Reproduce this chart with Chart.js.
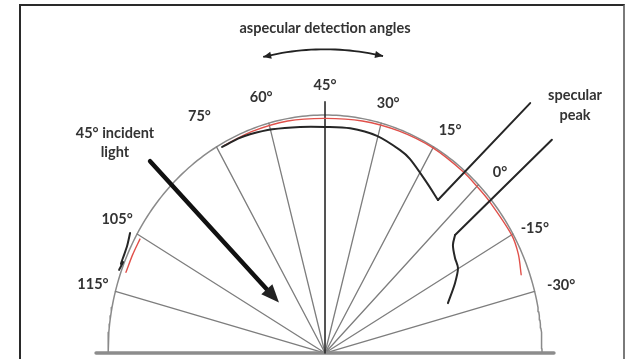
<!DOCTYPE html>
<html>
<head>
<meta charset="utf-8">
<script src="https://cdn.jsdelivr.net/npm/chart.js@4.4.1/dist/chart.umd.min.js"></script>
<style>
  html, body { margin: 0; padding: 0; background: #fff; }
  #wrap { position: relative; width: 631px; height: 359px; overflow: hidden; }
  #frame { position: absolute; left: 19px; top: 4px; width: 602px; height: 400px;
           border-left: 2px solid #2a2a2a; border-top: 2px solid #2a2a2a; border-right: 2px solid #7a7a7a; }
  canvas { position: absolute; left: 0; top: 0; }
</style>
</head>
<body>
<div id="wrap">
  <div id="frame"></div>
  <canvas id="c" width="631" height="359"></canvas>
</div>
<script>
// Detector rays: polar angle in degrees, measured from the right-hand baseline
const rayAngles = [165, 150, 120, 105, 90, 75, 60, 45, 30, 15];
// Detection angle tick labels, one per ray
const rayLabels = ['115°', '105°', '75°', '60°', '45°', '30°', '15°', '0°', '-15°', '-30°'];

// Reflectance profiles as [polar angle (deg), relative radius]
const redProfile = [
  [118, 0.988], [110, 0.990], [100, 0.990], [90, 0.986], [80, 0.990], [70, 0.993],
  [60, 0.995], [50, 0.993], [45, 0.990], [40, 0.990], [30, 0.993], [25, 0.983], [20, 0.962]
];
const redProfileLow = [[150.7, 0.978], [155, 0.978], [159.7, 0.978]];
const blackProfile = [
  [118.7, 0.987], [114, 0.986], [110.6, 0.982], [104.5, 0.971], [96.9, 0.957], [90, 0.950], [83, 0.951],
  [75.3, 0.943], [67.9, 0.920], [64.3, 0.904], [56.6, 0.855], [51, 0.827]
];
const blackPeakLine = [[51, 0.827], [48, 1.413]];
const blackProfile2 = [
  [20.3, 0.604], [26.1, 0.667], [30.2, 0.709], [33.7, 0.720], [37.6, 0.744], [39.6, 0.778]
];
const blackPeakLine2 = [[39.6, 0.778], [40.6, 1.377]];
const blackProfileLow = [
  [150.7, 1.030], [153.7, 1.017], [156.8, 1.013], [158.3, 1.012], [157.7, 1.006], [159.8, 1.011]
];

const DEG = Math.PI / 180;
const polar = (t, r) => ({ x: r * Math.cos(t * DEG), y: r * Math.sin(t * DEG) });
const toPoints = arr => arr.map(([t, r]) => polar(t, r));

const FONT = "bold 14.5px Lato, 'DejaVu Sans', sans-serif";
const INK = '#333333';

const datasets = [];
// black profiles (top)
[blackProfile, blackProfile2, blackProfileLow].forEach(p => datasets.push({
  data: toPoints(p), showLine: true, borderColor: '#262626', borderWidth: 2,
  tension: 0.3, pointRadius: 0, order: 1
}));
[blackPeakLine, blackPeakLine2].forEach(p => datasets.push({
  data: toPoints(p), showLine: true, borderColor: '#262626', borderWidth: 2,
  tension: 0, pointRadius: 0, order: 1
}));
// red profiles
[redProfile, redProfileLow].forEach(p => datasets.push({
  data: toPoints(p), showLine: true, borderColor: '#e0504a', borderWidth: 1.4,
  tension: 0.3, pointRadius: 0, order: 2
}));
// detector rays; the 45° normal is darker and longer
rayAngles.forEach(t => datasets.push({
  data: [polar(t, 0), polar(t, t === 90 ? 1.055 : 1)], showLine: true,
  borderColor: t === 90 ? '#2a2a2a' : '#7d7d7d', borderWidth: t === 90 ? 1.6 : 1.3,
  pointRadius: 0, order: t === 90 ? 3 : 5
}));
// outer half-ellipse of the goniometer
const rim = [];
for (let t = 0; t <= 180; t += 1) rim.push(polar(t, 1));
datasets.push({ data: rim, showLine: true, borderColor: '#8a8a8a', borderWidth: 1.5,
  tension: 0, pointRadius: 0, order: 6 });
// sample surface baseline
datasets.push({ data: [polar(180, 1.055), polar(0, 1.055)], showLine: true,
  borderColor: '#8c8c8c', borderWidth: 3.5, pointRadius: 0, order: 4 });

// Text and arrow annotations, placed in the same polar coordinates
const labelPlacement = [
  [164.8, 1.108], [149.7, 1.11], [120.2, 1.15], [105.3, 1.115], [90, 1.126],
  [74.5, 1.089], [58.4, 1.10], [43.3, 1.108], [28.5, 1.10], [14.7, 1.125]
];
const incidentArrow = { angle: 135, from: 1.14, to: 0.30 };
const sweepArc = { radius: 1.276, from: 102.9, to: 77.1 };

const annotations = {
  id: 'annotations',
  afterDatasetsDraw(chart) {
    const { ctx, scales: { x, y } } = chart;
    const px = p => [x.getPixelForValue(p.x), y.getPixelForValue(p.y)];
    ctx.save();
    ctx.fillStyle = INK;
    ctx.font = FONT;
    ctx.textAlign = 'center';
    ctx.textBaseline = 'middle';

    rayLabels.forEach((s, i) => {
      const [lx, ly] = px(polar(labelPlacement[i][0], labelPlacement[i][1]));
      ctx.fillText(s, lx, ly);
    });

    let [tx, ty] = px({ x: 0, y: 1.366 });
    ctx.fillText('aspecular detection angles', tx, ty);
    [tx, ty] = px({ x: -0.968, y: 0.924 });
    ctx.fillText('45° incident', tx, ty);
    [tx, ty] = px({ x: -0.968, y: 0.845 });
    ctx.fillText('light', tx, ty);
    [tx, ty] = px({ x: 1.152, y: 1.084 });
    ctx.fillText('specular', tx, ty);
    [tx, ty] = px({ x: 1.152, y: 1.0 });
    ctx.fillText('peak', tx, ty);

    // double-headed sweep arrow
    const arc = [];
    for (let t = sweepArc.from; t >= sweepArc.to - 1e-6; t -= 1) arc.push(px(polar(t, sweepArc.radius)));
    ctx.strokeStyle = '#222';
    ctx.lineWidth = 1.8;
    ctx.beginPath();
    arc.forEach(([ax, ay], i) => i ? ctx.lineTo(ax, ay) : ctx.moveTo(ax, ay));
    ctx.stroke();
    const head = (tip, back, len, half) => {
      const dx = tip[0] - back[0], dy = tip[1] - back[1];
      const L = Math.hypot(dx, dy), ux = dx / L, uy = dy / L;
      ctx.beginPath();
      ctx.moveTo(tip[0], tip[1]);
      ctx.lineTo(tip[0] - ux * len - uy * half, tip[1] - uy * len + ux * half);
      ctx.lineTo(tip[0] - ux * len + uy * half, tip[1] - uy * len - ux * half);
      ctx.closePath();
      ctx.fillStyle = '#222';
      ctx.fill();
    };
    head(arc[0], arc[3], 8, 3.5);
    head(arc[arc.length - 1], arc[arc.length - 4], 8, 3.5);

    // incident light arrow
    const a0 = px(polar(incidentArrow.angle, incidentArrow.from));
    const a1 = px(polar(incidentArrow.angle, incidentArrow.to));
    const dx = a1[0] - a0[0], dy = a1[1] - a0[1], L = Math.hypot(dx, dy);
    ctx.strokeStyle = '#111';
    ctx.lineWidth = 4.5;
    ctx.lineCap = 'round';
    ctx.beginPath();
    ctx.moveTo(a0[0], a0[1]);
    ctx.lineTo(a1[0] - dx / L * 12, a1[1] - dy / L * 12);
    ctx.stroke();
    head(a1, a0, 18, 7.5);
    ctx.restore();
  }
};

new Chart(document.getElementById('c'), {
  type: 'scatter',
  data: { datasets },
  options: {
    responsive: false,
    animation: false,
    devicePixelRatio: 1,
    layout: { padding: 0 },
    plugins: { legend: { display: false }, tooltip: { enabled: false } },
    scales: {
      x: { type: 'linear', display: false, min: -1.4977, max: 1.4101 },
      y: { type: 'linear', display: false, min: -0.0252, max: 1.4832 }
    },
    elements: { point: { radius: 0 }, line: { borderCapStyle: 'round', borderJoinStyle: 'round' } }
  },
  plugins: [annotations]
});
</script>
</body>
</html>
